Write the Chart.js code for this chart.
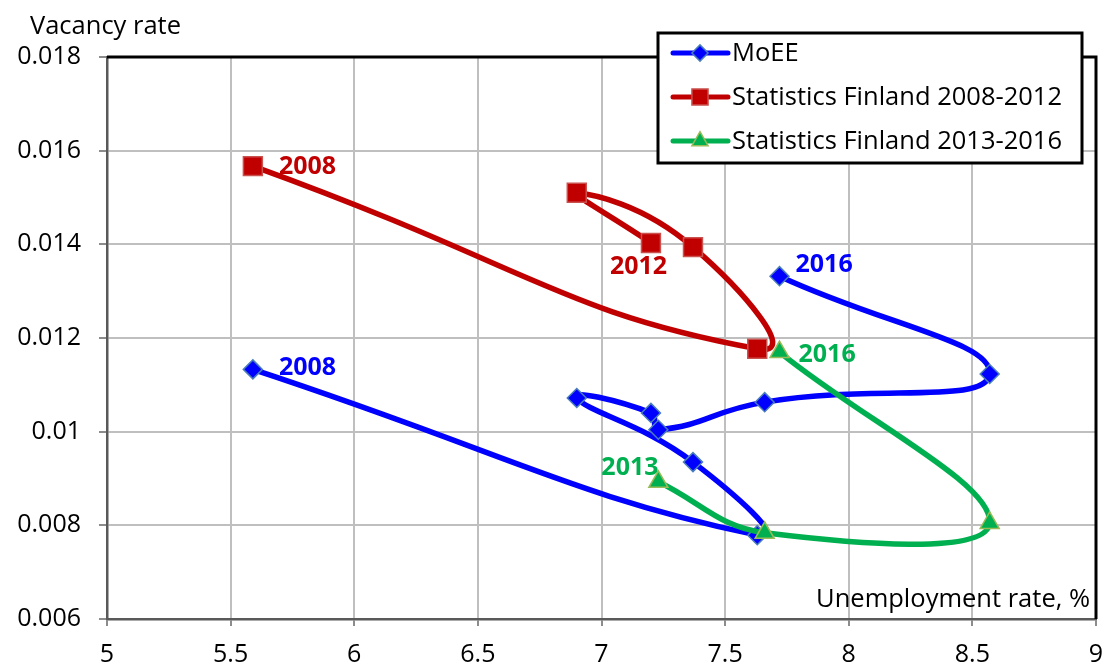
<!DOCTYPE html>
<html>
<head>
<meta charset="utf-8">
<title>Beveridge curve</title>
<script src="https://cdn.jsdelivr.net/npm/chart.js@4/dist/chart.umd.min.js"></script>
<style>
  html, body { margin: 0; padding: 0; background: #fff; }
  canvas { display: block; }
</style>
</head>
<body>
<canvas id="chart" width="1105" height="666"></canvas>
<script>
// unemployment rate (x) and vacancy rate (y), one point per year
const moeeYears = ["2008", "2009", "2010", "2011", "2012", "2013", "2014", "2015", "2016"];
const moeeX = [5.59, 7.63, 7.37, 6.90, 7.20, 7.23, 7.66, 8.57, 7.72];
const moeeY = [0.01133, 0.00779, 0.00935, 0.01072, 0.01040, 0.01004, 0.01063, 0.01123, 0.01332];

const sf1Years = ["2008", "2009", "2010", "2011", "2012"];
const sf1X = [5.59, 7.63, 7.37, 6.90, 7.20];
const sf1Y = [0.01567, 0.01177, 0.01394, 0.01510, 0.01403];

const sf2Years = ["2013", "2014", "2015", "2016"];
const sf2X = [7.23, 7.66, 8.57, 7.72];
const sf2Y = [0.00893, 0.00784, 0.00805, 0.01170];

const xTicks = [5, 5.5, 6, 6.5, 7, 7.5, 8, 8.5, 9];
const xTickLabels = ["5", "5.5", "6", "6.5", "7", "7.5", "8", "8.5", "9"];
const yTicks = [0.006, 0.008, 0.01, 0.012, 0.014, 0.016, 0.018];
const yTickLabels = ["0.006", "0.008", "0.01", "0.012", "0.014", "0.016", "0.018"];

// which points get a year label: [dataset, point]
const labelledPoints = [[1, 0], [1, 4], [0, 0], [0, 8], [2, 0], [2, 3]];
const labelOffsets = [[26, 1], [-41, 24], [26, -2], [16, -11], [-57, -14], [19, 3]];

const FONT = "'Open Sans', Lato, sans-serif";
const seriesYears = [moeeYears, sf1Years, sf2Years];
const pts = (xs, ys) => xs.map((v, i) => ({ x: v, y: ys[i] }));

const decorations = {
  id: "decorations",
  afterDatasetsDraw(chart) {
    const { ctx, chartArea: a } = chart;
    const sets = chart.data.datasets;
    ctx.save();

    // black frame on top and right
    ctx.strokeStyle = "#000";
    ctx.lineWidth = 3;
    ctx.beginPath();
    ctx.moveTo(a.left, a.top);
    ctx.lineTo(a.right, a.top);
    ctx.lineTo(a.right, a.bottom);
    ctx.stroke();

    // year labels next to points
    ctx.font = `bold 25px ${FONT}`;
    ctx.textAlign = "left";
    ctx.textBaseline = "middle";
    labelledPoints.forEach(([ds, i], k) => {
      const p = chart.getDatasetMeta(ds).data[i];
      ctx.fillStyle = sets[ds].borderColor;
      ctx.fillText(seriesYears[ds][i], p.x + labelOffsets[k][0], p.y + labelOffsets[k][1]);
    });

    // axis titles
    ctx.font = `25.5px ${FONT}`;
    ctx.fillStyle = "#000";
    ctx.textBaseline = "alphabetic";
    ctx.fillText("Vacancy rate", 30, 34);
    ctx.textAlign = "right";
    ctx.fillText("Unemployment rate, %", a.right - 6, a.bottom - 12);

    // legend box
    const lx = 658, ly = 33, lw = 424, lh = 130;
    ctx.fillStyle = "#fff";
    ctx.fillRect(lx, ly, lw, lh);
    ctx.lineWidth = 3;
    ctx.strokeStyle = "#000";
    ctx.strokeRect(lx, ly, lw, lh);
    ctx.textAlign = "left";
    ctx.textBaseline = "middle";
    sets.forEach((d, k) => {
      const y = ly + 20 + k * 44;
      ctx.strokeStyle = d.borderColor;
      ctx.lineWidth = 5;
      ctx.lineCap = "round";
      ctx.beginPath();
      ctx.moveTo(lx + 15, y);
      ctx.lineTo(lx + 70, y);
      ctx.stroke();
      ctx.fillStyle = d.pointBackgroundColor;
      ctx.strokeStyle = d.pointBorderColor;
      ctx.lineWidth = d.pointBorderWidth;
      Chart.helpers.drawPoint(ctx, {
        pointStyle: d.pointStyle, radius: d.pointRadius * 0.85,
        borderWidth: d.pointBorderWidth, rotation: 0
      }, lx + 42, y);
      ctx.fillStyle = "#000";
      ctx.fillText(d.label, lx + 74, y + 1);
    });
    ctx.restore();
  }
};

new Chart(document.getElementById("chart"), {
  type: "scatter",
  data: {
    datasets: [
      {
        label: "MoEE",
        data: pts(moeeX, moeeY),
        showLine: true, tension: 0.5, borderWidth: 5.5,
        borderColor: "#0000FF", backgroundColor: "#0000FF",
        pointStyle: "rectRot", pointRadius: 9.5,
        pointBackgroundColor: "#0000FF", pointBorderColor: "#4A7EBB", pointBorderWidth: 1.5,
        order: 3
      },
      {
        label: "Statistics Finland 2008-2012",
        data: pts(sf1X, sf1Y),
        showLine: true, tension: 0.55, borderWidth: 5.5,
        borderColor: "#C00000", backgroundColor: "#C00000",
        pointStyle: "rect", pointRadius: 13.4,
        pointBackgroundColor: "#C00000", pointBorderColor: "#C9514E", pointBorderWidth: 1.5,
        order: 2
      },
      {
        label: "Statistics Finland 2013-2016",
        data: pts(sf2X, sf2Y),
        showLine: true, tension: 0.4, borderWidth: 5.5,
        borderColor: "#00B050", backgroundColor: "#00B050",
        pointStyle: "triangle", pointRadius: 11,
        pointBackgroundColor: "#00B050", pointBorderColor: "#9BBB59", pointBorderWidth: 1.5,
        order: 1
      }
    ]
  },
  options: {
    responsive: false,
    animation: false,
    devicePixelRatio: 1,
    layout: { autoPadding: false, padding: { top: 57, right: 9, left: 0, bottom: 0 } },
    plugins: { legend: { display: false }, tooltip: { enabled: false } },
    scales: {
      x: {
        type: "linear", min: 5, max: 9,
        afterBuildTicks: s => { s.ticks = xTicks.map(v => ({ value: v })); },
        afterFit: s => { s.height = 47; s.paddingLeft = 0; s.paddingRight = 0; },
        grid: { color: "#BFBFBF", lineWidth: 2, tickLength: 7, tickColor: "#8C8C8C" },
        border: { color: "#595959", width: 2.5 },
        ticks: {
          color: "#000", font: { family: FONT, size: 25 }, padding: 14,
          maxRotation: 0, autoSkip: false,
          callback: (v, i) => xTickLabels[i]
        }
      },
      y: {
        type: "linear", min: 0.006, max: 0.018,
        afterBuildTicks: s => { s.ticks = yTicks.map(v => ({ value: v })); },
        afterFit: s => { s.width = 107; },
        grid: { color: "#BFBFBF", lineWidth: 2, tickLength: 8, tickColor: "#8C8C8C" },
        border: { color: "#595959", width: 2.5 },
        ticks: {
          color: "#000", font: { family: FONT, size: 25 }, padding: 18,
          autoSkip: false,
          callback: (v, i) => yTickLabels[i]
        }
      }
    }
  },
  plugins: [decorations]
});
</script>
</body>
</html>
